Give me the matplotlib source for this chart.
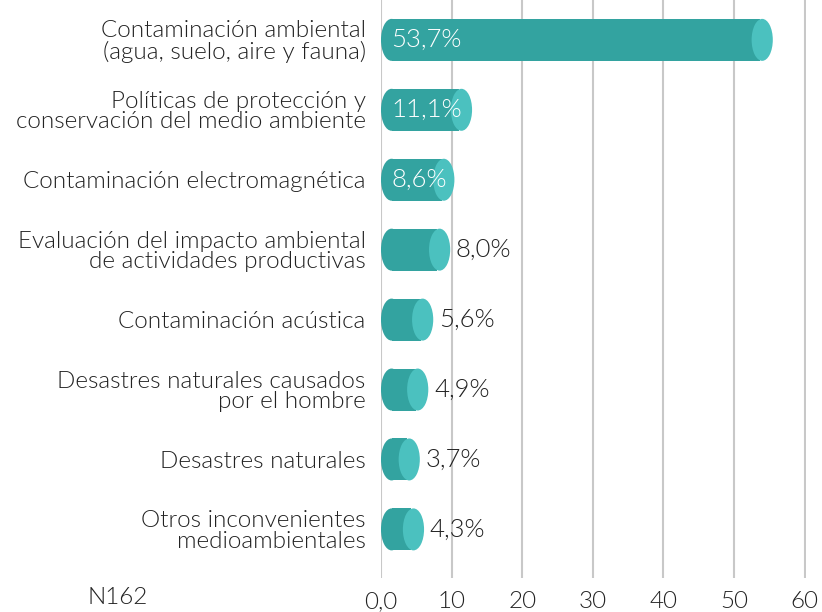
import numpy as np
import matplotlib
matplotlib.use('Agg')
import matplotlib.pyplot as plt
from matplotlib.patches import Ellipse, Rectangle

categories = ['Contaminación ambiental\n(agua, suelo, aire y fauna)',
              'Políticas de protección y\nconservación del medio ambiente',
              'Contaminación electromagnética',
              'Evaluación del impacto ambiental\nde actividades productivas',
              'Contaminación acústica',
              'Desastres naturales causados\npor el hombre',
              'Desastres naturales',
              'Otros inconvenientes\nmedioambientales']
values = [53.7, 11.1, 8.6, 8.0, 5.6, 4.9, 3.7, 4.3]
value_labels = ['53,7%', '11,1%', '8,6%', '8,0%', '5,6%', '4,9%', '3,7%', '4,3%']
inside = [True, True, True, False, False, False, False, False]
xticks = [0, 10, 20, 30, 40, 50, 60]
xtick_labels = ['0,0', '10', '20', '30', '40', '50', '60']

body_col = '#33a3a0'
cap_col = '#4bc1bf'
text_col = '#222222'

plt.rcParams['font.family'] = ['Lato', 'DejaVu Sans']
plt.rcParams['font.weight'] = 300

fig = plt.figure(figsize=(8.22, 6.12), dpi=100)
ax = fig.add_axes([0.4635, 0.055, 0.517, 0.945])

h = 0.6
cap_w = 3.0
fs = 17.5
for i, v in enumerate(values):
    # left rounded end, body, lighter cap on the right
    ax.add_patch(Ellipse((cap_w / 2, i), cap_w, h, color=body_col, lw=0, zorder=3))
    ax.add_patch(Rectangle((cap_w / 2, i - h / 2), v - cap_w / 2, h, color=body_col, lw=0, zorder=3))
    ax.add_patch(Ellipse((v + 0.3, i), cap_w, h, color=cap_col, lw=0, zorder=4))
    if inside[i]:
        ax.text(1.5, i, value_labels[i], color='white', fontsize=fs + 1, va='center', ha='left', zorder=5)
    else:
        ax.text(v + 2.6, i, value_labels[i], color=text_col, fontsize=fs + 1, va='center', ha='left', zorder=5)

ax.set_xlim(0, 60.2)
ax.set_ylim(7.7, -0.57)
ax.set_xticks(xticks)
ax.set_xticklabels(xtick_labels, fontsize=fs, color=text_col)
ax.set_yticks(range(len(categories)))
ax.set_yticklabels(categories, fontsize=fs, color=text_col, linespacing=0.95)
ax.tick_params(axis='both', length=0, pad=11)
ax.tick_params(axis='x', pad=9)
ax.grid(axis='x', color='#c8c8c8', lw=1.5, zorder=0)
for s in ax.spines.values():
    s.set_visible(False)

fig.text(0.143, 0.023, 'N162', fontsize=fs, color=text_col, ha='center', va='center')

fig.savefig('out.png', dpi=100)
